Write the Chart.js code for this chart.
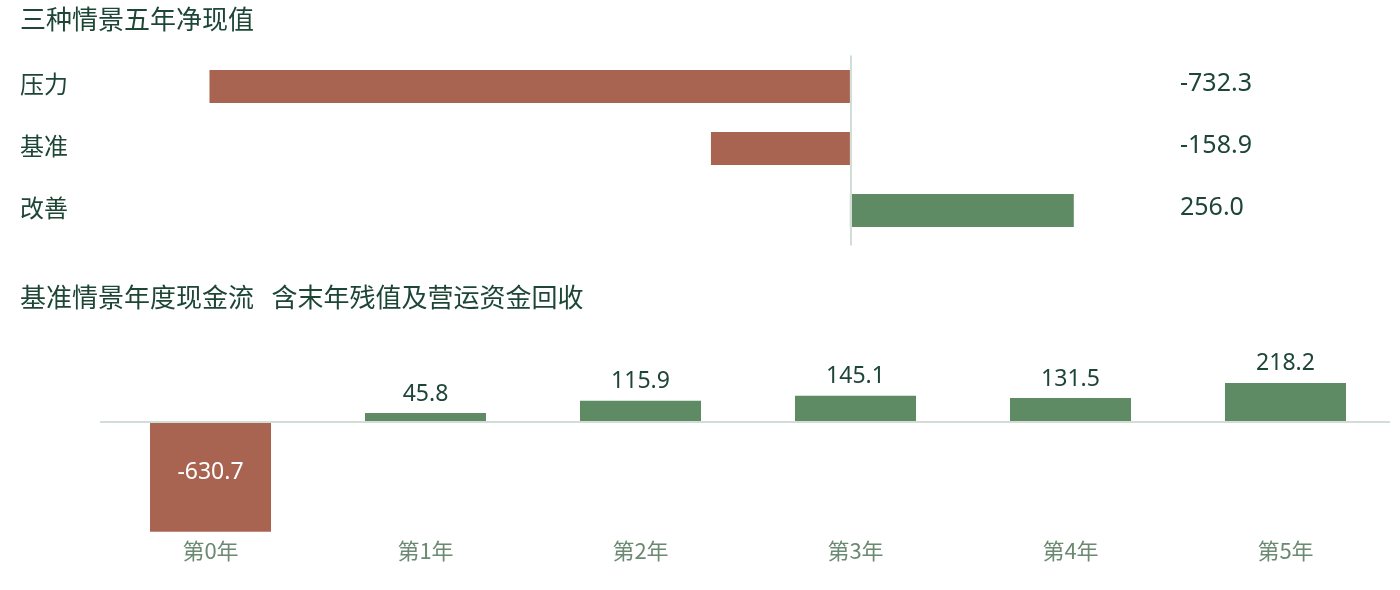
<!DOCTYPE html>
<html>
<head>
<meta charset="utf-8">
<script src="https://cdn.jsdelivr.net/npm/chart.js@4.4.1/dist/chart.umd.min.js"></script>
<style>
  html, body { margin: 0; padding: 0; background: #ffffff; }
  #wrap { position: relative; width: 1400px; height: 590px; overflow: hidden; }
  .box { position: absolute; left: 0; width: 1400px; }
</style>
</head>
<body>
<div id="wrap">
  <div class="box" style="top:0;height:270px;"><canvas id="c1"></canvas></div>
  <div class="box" style="top:270px;height:320px;"><canvas id="c2"></canvas></div>
</div>
<script>
// ---- data ----
const npvTitle = '三种情景五年净现值';
const scenarios = ['压力', '基准', '改善'];
const npvValues = [-732.3, -158.9, 256.0];

const cfTitle = '基准情景年度现金流   含末年残值及营运资金回收';
const years = ['第0年', '第1年', '第2年', '第3年', '第4年', '第5年'];
const cashFlows = [-630.7, 45.8, 115.9, 145.1, 131.5, 218.2];

// ---- styles ----
const RED = '#a86451';
const GREEN = '#5e8a64';
const TEXT = '#1e4637';
const TICK = '#6b8a71';
const ZERO = '#d2ded5';
const FONT = "'Noto Sans CJK SC', 'Noto Sans', sans-serif";
const NUMFONT = "'Noto Sans', 'Noto Sans CJK SC', sans-serif";

Chart.defaults.font.family = FONT;
Chart.defaults.color = TEXT;

const colorFor = v => v < 0 ? RED : GREEN;

// top chart: zero line + value column
const npvPlugin = {
  id: 'npvPlugin',
  afterDatasetsDraw(chart) {
    const ctx = chart.ctx;
    const x = chart.scales.x.getPixelForValue(0);
    const a = chart.chartArea;
    ctx.save();
    ctx.fillStyle = ZERO;
    ctx.fillRect(Math.round(x), a.top, 2, a.bottom - a.top + 4);
    ctx.font = "25px " + NUMFONT;
    ctx.fillStyle = TEXT;
    ctx.textAlign = 'left';
    ctx.textBaseline = 'middle';
    const meta = chart.getDatasetMeta(0);
    meta.data.forEach((el, i) => {
      ctx.fillText(npvValues[i].toFixed(1), a.right + 24, el.y - 3);
    });
    ctx.restore();
  }
};

new Chart(document.getElementById('c1'), {
  type: 'bar',
  data: {
    labels: scenarios,
    datasets: [{
      data: npvValues,
      backgroundColor: npvValues.map(colorFor),
      borderWidth: 0,
      barPercentage: 0.532,
      categoryPercentage: 1.0
    }]
  },
  options: {
    responsive: true,
    maintainAspectRatio: false,
    indexAxis: 'y',
    animation: false,
    layout: { padding: { left: 20, right: 244, top: 0, bottom: 28.5 } },
    plugins: {
      legend: { display: false },
      tooltip: { enabled: false },
      title: {
        display: true,
        text: npvTitle,
        align: 'start',
        color: TEXT,
        font: { size: 26, weight: 'normal', family: FONT },
        padding: { top: 4, bottom: 20.3 }
      }
    },
    scales: {
      x: {
        display: false,
        min: -750,
        max: 350
      },
      y: {
        grid: { display: false, drawTicks: false },
        border: { display: false },
        ticks: {
          crossAlign: 'far',
          color: TEXT,
          padding: 0,
          labelOffset: -3,
          font: { size: 24, family: FONT }
        },
        afterFit(scale) { scale.width = 174; }
      }
    }
  },
  plugins: [npvPlugin]
});

// bottom chart: zero line + bar labels
const cfPlugin = {
  id: 'cfPlugin',
  afterDatasetsDraw(chart) {
    const ctx = chart.ctx;
    const y = chart.scales.y.getPixelForValue(0);
    const a = chart.chartArea;
    const meta = chart.getDatasetMeta(0);
    ctx.save();
    ctx.fillStyle = ZERO;
    ctx.fillRect(a.left - 3, Math.round(y), a.right - a.left, 2);
    ctx.font = "23px " + NUMFONT;
    ctx.textAlign = 'center';
    ctx.textBaseline = 'middle';
    meta.data.forEach((el, i) => {
      const v = cashFlows[i];
      if (v < 0) {
        ctx.fillStyle = '#ffffff';
        ctx.fillText(v.toFixed(1), el.x, (y + el.y) / 2 - 4);
      } else {
        ctx.fillStyle = TEXT;
        ctx.fillText(v.toFixed(1), el.x, el.y - 19);
      }
    });
    ctx.restore();
  }
};

new Chart(document.getElementById('c2'), {
  type: 'bar',
  data: {
    labels: years,
    datasets: [{
      data: cashFlows,
      backgroundColor: cashFlows.map(colorFor),
      borderWidth: 0,
      barPercentage: 0.563,
      categoryPercentage: 1.0
    }]
  },
  options: {
    responsive: true,
    maintainAspectRatio: false,
    animation: false,
    layout: { padding: { left: 20, right: 7, top: 0, bottom: 21.8 } },
    plugins: {
      legend: { display: false },
      tooltip: { enabled: false },
      title: {
        display: true,
        text: cfTitle,
        align: 'start',
        color: TEXT,
        font: { size: 26, weight: 'normal', family: FONT },
        padding: { top: 12, bottom: 16.8 }
      }
    },
    scales: {
      y: {
        display: true,
        min: -642.7,
        max: 520,
        grid: { display: false, drawTicks: false },
        border: { display: false },
        ticks: { display: false },
        afterFit(scale) { scale.width = 83; }
      },
      x: {
        grid: { display: false, drawTicks: false },
        border: { display: false },
        ticks: {
          color: TICK,
          padding: 4,
          font: { size: 22, family: FONT }
        }
      }
    }
  },
  plugins: [cfPlugin]
});
</script>
</body>
</html>
